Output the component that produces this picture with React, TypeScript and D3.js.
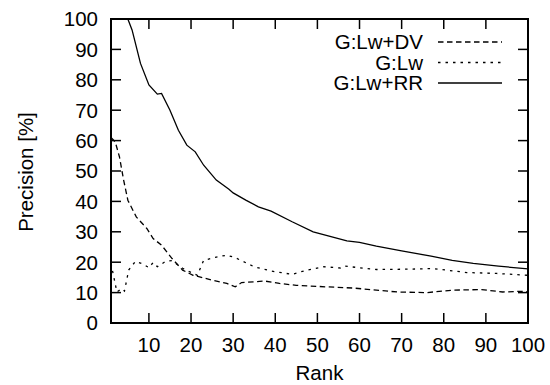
import { useEffect, useRef } from 'react';
import * as d3 from 'd3';

// values (rank -> precision %)
const rrRanks = [1, 5, 6, 8, 10, 12, 13, 15, 17, 19, 21, 23, 26, 29, 30, 33, 36, 39, 44, 49, 53, 57, 60, 64, 70, 77, 82, 87, 93, 100];
const rrValues = [100, 100, 96.4, 85.4, 78.3, 75.3, 75.5, 70, 63.4, 58.5, 56.3, 51.9, 47, 44, 42.8, 40.4, 38.2, 36.8, 33.3, 30, 28.5, 27, 26.5, 25.3, 23.7, 22, 20.6, 19.6, 18.7, 17.8];

const dvRanks = [1, 2, 3, 4, 5, 7, 9.5, 11, 13, 15.5, 18, 20.5, 25, 27, 28.5, 30.5, 32, 37.5, 41, 45, 52, 58.5, 64, 69, 76, 82, 89, 94, 98, 100];
const dvValues = [61, 59.6, 54.7, 47, 40.4, 34.9, 31.1, 27.8, 25.6, 21.2, 17.4, 15.7, 14.1, 13.5, 13, 11.9, 13.3, 13.8, 13, 12.4, 11.9, 11.5, 10.8, 10.2, 10, 10.8, 11, 10.2, 10.4, 10.3];

const lwRanks = [1, 2.4, 3.6, 4.2, 5.2, 6.8, 8.4, 10, 11, 12, 14, 15.5, 18, 20.5, 21.5, 23, 26, 28.5, 30.5, 35, 39, 44, 47.5, 51.5, 55.5, 56.5, 64, 71, 77.5, 85.5, 92.5, 100];
const lwValues = [19.6, 10.2, 11.3, 10.5, 17.4, 20.3, 19.5, 18.2, 19.9, 18.5, 20.3, 20.5, 18, 16.3, 15.7, 20.6, 21.7, 22.3, 21.5, 18.5, 17.1, 16, 17.4, 18.5, 18.1, 18.7, 17.6, 17.7, 17.9, 16.6, 16.3, 15.7];

const seriesNames = ['G:Lw+DV', 'G:Lw', 'G:Lw+RR'];
const xTicks = [10, 20, 30, 40, 50, 60, 70, 80, 90, 100];
const yTicks = [0, 10, 20, 30, 40, 50, 60, 70, 80, 90, 100];

const width = 550;
const height = 385;
const margin = { top: 19, right: 22, bottom: 62, left: 111 };
const font = '"Liberation Sans", Arial, sans-serif';
const fontSize = '20.5px';

export default function App() {
  const svgRef = useRef<SVGSVGElement>(null);

  useEffect(() => {
    if (!svgRef.current) return;
    const svg = d3.select(svgRef.current);
    svg.selectAll('*').remove();

    const w = width - margin.left - margin.right;
    const h = height - margin.top - margin.bottom;

    const x = d3.scaleLinear().domain([1, 100]).range([0, w]);
    const y = d3.scaleLinear().domain([0, 100]).range([h, 0]);

    const g = svg.append('g').attr('transform', `translate(${margin.left},${margin.top})`);

    svg.append('clipPath').attr('id', 'plot-clip')
      .append('rect').attr('x', 0).attr('y', 0).attr('width', w).attr('height', h);

    const series = [
      { name: seriesNames[0], ranks: dvRanks, values: dvValues, dash: '5.5,3.5' },
      { name: seriesNames[1], ranks: lwRanks, values: lwValues, dash: '2.5,5' },
      { name: seriesNames[2], ranks: rrRanks, values: rrValues, dash: null },
    ];

    const line = d3.line<[number, number]>()
      .x((d) => x(d[0]))
      .y((d) => y(d[1]));

    const lines = g.append('g').attr('clip-path', 'url(#plot-clip)');
    series.forEach((s) => {
      const pts = s.ranks.map((r, i) => [r, s.values[i]] as [number, number]);
      lines.append('path')
        .datum(pts)
        .attr('fill', 'none')
        .attr('stroke', '#000')
        .attr('stroke-width', 1.3)
        .attr('stroke-dasharray', s.dash)
        .attr('d', line);
    });

    // ticks, mirrored on all four sides, pointing inward
    const tickLen = 10;
    xTicks.forEach((t) => {
      g.append('line').attr('x1', x(t)).attr('x2', x(t)).attr('y1', h).attr('y2', h - tickLen)
        .attr('stroke', '#000').attr('stroke-width', 1.5);
      g.append('line').attr('x1', x(t)).attr('x2', x(t)).attr('y1', 0).attr('y2', tickLen)
        .attr('stroke', '#000').attr('stroke-width', 1.5);
      g.append('text').attr('x', x(t)).attr('y', h + 29)
        .attr('text-anchor', 'middle')
        .style('font-family', font).style('font-size', fontSize)
        .text(t);
    });
    yTicks.forEach((t) => {
      g.append('line').attr('x1', 0).attr('x2', tickLen).attr('y1', y(t)).attr('y2', y(t))
        .attr('stroke', '#000').attr('stroke-width', 1.5);
      g.append('line').attr('x1', w).attr('x2', w - tickLen).attr('y1', y(t)).attr('y2', y(t))
        .attr('stroke', '#000').attr('stroke-width', 1.5);
      g.append('text').attr('x', -13).attr('y', y(t)).attr('dy', '0.36em')
        .attr('text-anchor', 'end')
        .style('font-family', font).style('font-size', fontSize)
        .text(t);
    });

    g.append('rect').attr('x', 0).attr('y', 0).attr('width', w).attr('height', h)
      .attr('fill', 'none').attr('stroke', '#000').attr('stroke-width', 2);

    // legend
    series.forEach((s, i) => {
      const ly = 23 + i * 20.5;
      g.append('text').attr('x', 312).attr('y', ly).attr('dy', '0.36em')
        .attr('text-anchor', 'end')
        .style('font-family', font).style('font-size', fontSize)
        .text(s.name);
      g.append('line').attr('x1', 327).attr('x2', 391).attr('y1', ly).attr('y2', ly)
        .attr('stroke', '#000').attr('stroke-width', 1.3)
        .attr('stroke-dasharray', s.dash);
    });

    svg.append('text')
      .attr('x', margin.left + w / 2).attr('y', 380)
      .attr('text-anchor', 'middle')
      .style('font-family', font).style('font-size', fontSize)
      .text('Rank');

    svg.append('text')
      .attr('transform', `translate(33,172) rotate(-90)`)
      .attr('text-anchor', 'middle')
      .style('font-family', font).style('font-size', fontSize)
      .text('Precision [%]');
  }, []);

  return (
    <svg
      ref={svgRef}
      width={width}
      height={height}
      style={{ position: 'absolute', left: 0, top: 0, background: '#fff' }}
      viewBox={`0 0 ${width} ${height}`}
    />
  );
}
